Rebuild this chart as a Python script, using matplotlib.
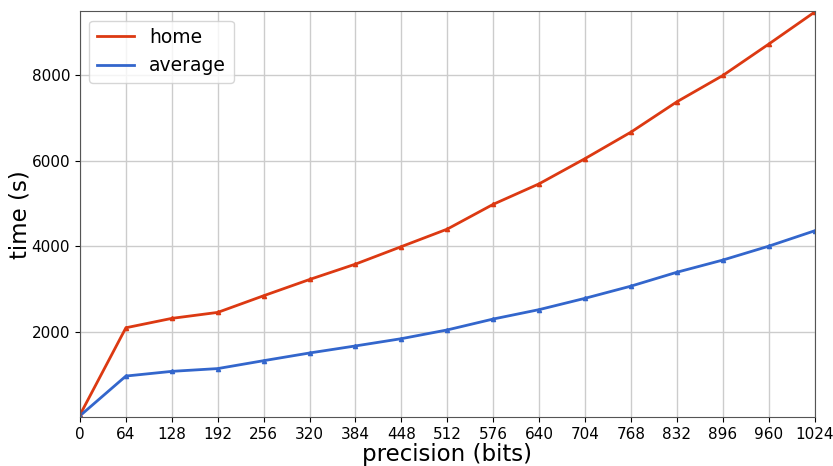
import matplotlib
matplotlib.use('Agg')
import matplotlib.pyplot as plt

# precision in bits
precision = [0, 64, 128, 192, 256, 320, 384, 448, 512, 576, 640, 704, 768, 832, 896, 960, 1024]
# time in seconds
home = [50, 2090, 2310, 2450, 2840, 3220, 3580, 3990, 4400, 4980, 5460, 6050, 6670, 7380, 7995, 8730, 9480]
average = [30, 960, 1070, 1135, 1320, 1500, 1665, 1835, 2040, 2295, 2515, 2780, 3065, 3390, 3675, 4000, 4360]

x_ticks = list(range(0, 1025, 64))
y_ticks = [2000, 4000, 6000, 8000]

fig = plt.figure(figsize=(8.33, 4.66), dpi=100)
ax = fig.add_axes([0.096, 0.105, 0.882, 0.871])

ax.plot(precision, home, color='#dc3912', linewidth=2, label='home')
ax.plot(precision, average, color='#3366cc', linewidth=2, label='average')
# маркеры отдельно, чтобы в легенде были только линии
ax.plot(precision, home, '^', color='#dc3912', markersize=3)
ax.plot(precision, average, '^', color='#3366cc', markersize=3)

ax.set_xlim(0, 1024)
ax.set_ylim(0, 9500)
ax.set_xticks(x_ticks)
ax.set_yticks(y_ticks)
ax.tick_params(labelsize=11)
ax.grid(True, color='#cccccc', linewidth=1)
ax.set_axisbelow(True)
for s in ax.spines.values():
    s.set_color('#555555')

ax.set_xlabel('precision (bits)', fontsize=16.5, labelpad=1)
ax.set_ylabel('time (s)', fontsize=16.5, labelpad=0)
ax.legend(loc='upper left', fontsize=13.5)

fig.savefig('out.png', dpi=100)
